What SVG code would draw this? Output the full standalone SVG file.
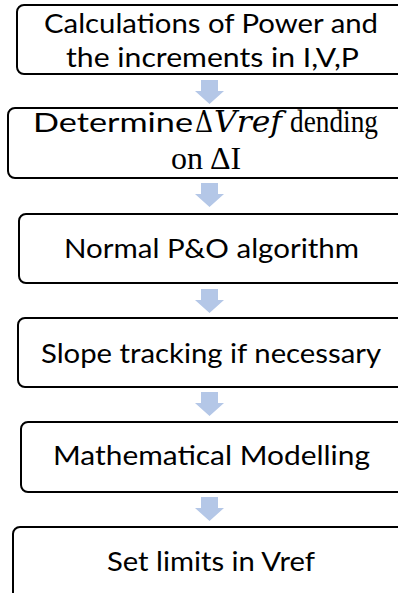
<svg xmlns="http://www.w3.org/2000/svg" width="398" height="593" viewBox="0 0 398 593">
<style>
.box{fill:#fff;stroke:#000;stroke-width:2}
.t{font-family:Lato,"Liberation Sans",sans-serif;font-size:26.5px;fill:#000}
.s{font-family:"Liberation Serif","DejaVu Serif",serif;font-size:30px;fill:#000}
.m{font-family:"DejaVu Serif","Liberation Serif",serif;font-size:29px;fill:#000}
.arr{fill:#b4c7e7}
</style>
<defs>
<path id="arrow" class="arr" d="M-8.5,0 H8.5 V11 H14.5 L0,24 L-14.5,11 H-8.5 Z"/>
</defs>
<rect width="398" height="593" fill="#fff"/>
<g id="connectors">
<use href="#arrow" x="209.5" y="80"/>
<use href="#arrow" x="209.5" y="183"/>
<use href="#arrow" x="209.5" y="289"/>
<use href="#arrow" x="209.5" y="392"/>
<use href="#arrow" x="209.5" y="497"/>
</g>
<g id="n1">
<rect class="box" x="17" y="5" width="400" height="69" rx="7"/>
<text class="t" x="44" y="33" textLength="334" lengthAdjust="spacingAndGlyphs">Calculations of Power and</text>
<text class="t" x="66" y="67" textLength="293" lengthAdjust="spacingAndGlyphs">the increments in I,V,P</text>
</g>
<g id="n2">
<rect class="box" x="8" y="108" width="410" height="70" rx="7"/>
<text y="132"><tspan class="t" x="33" style="font-size:27.5px" textLength="160" lengthAdjust="spacingAndGlyphs">Determine</tspan><tspan class="m" x="195" textLength="18" lengthAdjust="spacingAndGlyphs">Δ</tspan><tspan class="m" x="214" font-style="italic" textLength="68" lengthAdjust="spacingAndGlyphs">Vref</tspan><tspan class="s" x="290" style="font-size:31px" textLength="88" lengthAdjust="spacingAndGlyphs">dending</tspan></text>
<text class="s" y="169" style="font-size:32px"><tspan x="171">on</tspan><tspan x="210">ΔI</tspan></text>
</g>
<g id="n3">
<rect class="box" x="19" y="214" width="400" height="69" rx="7"/>
<text class="t" x="64" y="258" textLength="295" lengthAdjust="spacingAndGlyphs">Normal P&amp;O algorithm</text>
</g>
<g id="n4">
<rect class="box" x="18" y="318" width="400" height="69" rx="7"/>
<text class="t" x="41" y="363" textLength="340" lengthAdjust="spacingAndGlyphs">Slope tracking if necessary</text>
</g>
<g id="n5">
<rect class="box" x="21" y="422" width="400" height="70" rx="7"/>
<text class="t" x="53" y="465" textLength="317" lengthAdjust="spacingAndGlyphs">Mathematical Modelling</text>
</g>
<g id="n6">
<rect class="box" x="13" y="527" width="400" height="80" rx="7"/>
<text class="t" x="107" y="571" textLength="208" lengthAdjust="spacingAndGlyphs">Set limits in Vref</text>
</g>
</svg>
